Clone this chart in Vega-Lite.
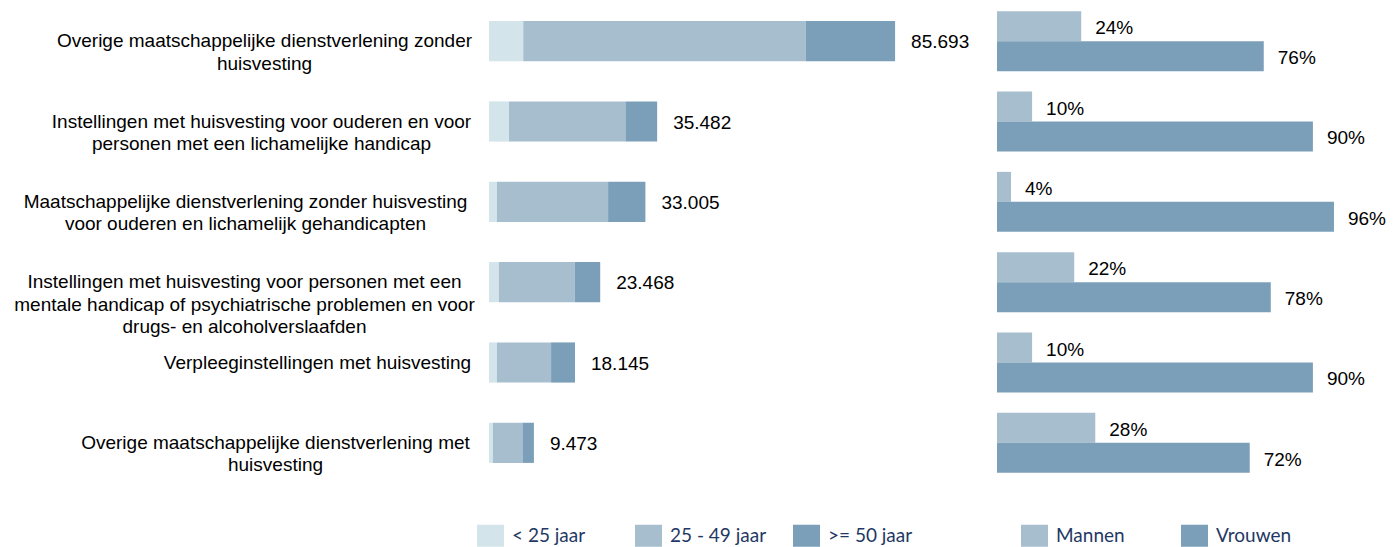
{
  "$schema": "https://vega.github.io/schema/vega-lite/v6.json",
  "padding": {"left": 13, "top": 1, "right": 0, "bottom": 0},
  "config": {
    "view": {"stroke": null},
    "font": "Liberation Sans",
    "locale": {"number": {"decimal": ",", "thousands": ".", "grouping": [3], "currency": ["€", ""]}}
  },
  "resolve": {"scale": {"color": "independent"}},
  "spacing": 0,
  "hconcat": [
    {
      "width": 508,
      "height": 482,
      "data": {"values": [
        {"cat": "Overige maatschappelijke dienstverlening zonder|huisvesting", "age": "< 25 jaar", "n": 7230},
        {"cat": "Overige maatschappelijke dienstverlening zonder|huisvesting", "age": "25 - 49 jaar", "n": 59580},
        {"cat": "Overige maatschappelijke dienstverlening zonder|huisvesting", "age": ">= 50 jaar", "n": 18883},
        {"cat": "Instellingen met huisvesting voor ouderen en voor|personen met een lichamelijke handicap", "age": "< 25 jaar", "n": 4220},
        {"cat": "Instellingen met huisvesting voor ouderen en voor|personen met een lichamelijke handicap", "age": "25 - 49 jaar", "n": 24570},
        {"cat": "Instellingen met huisvesting voor ouderen en voor|personen met een lichamelijke handicap", "age": ">= 50 jaar", "n": 6692},
        {"cat": "Maatschappelijke dienstverlening zonder huisvesting|voor ouderen en lichamelijk gehandicapten", "age": "< 25 jaar", "n": 1671},
        {"cat": "Maatschappelijke dienstverlening zonder huisvesting|voor ouderen en lichamelijk gehandicapten", "age": "25 - 49 jaar", "n": 23459},
        {"cat": "Maatschappelijke dienstverlening zonder huisvesting|voor ouderen en lichamelijk gehandicapten", "age": ">= 50 jaar", "n": 7875},
        {"cat": "Instellingen met huisvesting voor personen met een|mentale handicap of psychiatrische problemen en voor|drugs- en alcoholverslaafden", "age": "< 25 jaar", "n": 2095},
        {"cat": "Instellingen met huisvesting voor personen met een|mentale handicap of psychiatrische problemen en voor|drugs- en alcoholverslaafden", "age": "25 - 49 jaar", "n": 15988},
        {"cat": "Instellingen met huisvesting voor personen met een|mentale handicap of psychiatrische problemen en voor|drugs- en alcoholverslaafden", "age": ">= 50 jaar", "n": 5385},
        {"cat": "Verpleeginstellingen met huisvesting", "age": "< 25 jaar", "n": 1682},
        {"cat": "Verpleeginstellingen met huisvesting", "age": "25 - 49 jaar", "n": 11417},
        {"cat": "Verpleeginstellingen met huisvesting", "age": ">= 50 jaar", "n": 5046},
        {"cat": "Overige maatschappelijke dienstverlening met|huisvesting", "age": "< 25 jaar", "n": 824},
        {"cat": "Overige maatschappelijke dienstverlening met|huisvesting", "age": "25 - 49 jaar", "n": 6240},
        {"cat": "Overige maatschappelijke dienstverlening met|huisvesting", "age": ">= 50 jaar", "n": 2409}
      ]},
      "encoding": {
        "y": {
          "field": "cat", "type": "nominal", "sort": null,
          "scale": {"paddingInner": 0.5, "paddingOuter": 0.25},
          "axis": {
            "title": null, "domain": false, "ticks": false, "tickSize": 0,
            "labelAlign": "center", "labelBaseline": "middle",
            "labelFont": "Liberation Sans", "labelFontSize": 19, "labelColor": "#000000",
            "labelLimit": 1000, "labelLineHeight": 22.5,
            "labelExpr": "split(datum.label, '|')",
            "labelPadding": {
              "condition": [
                {"test": "indexof(datum.value, 'zonder|huisvesting') >= 0", "value": 225},
                {"test": "indexof(datum.value, 'ouderen en voor') >= 0", "value": 228},
                {"test": "indexof(datum.value, 'Maatschappelijke') == 0", "value": 244},
                {"test": "indexof(datum.value, 'mentale') >= 0", "value": 245},
                {"test": "indexof(datum.value, 'Verpleeg') == 0", "value": 172},
                {"test": "indexof(datum.value, 'met|huisvesting') >= 0", "value": 214}
              ],
              "value": 225
            }
          }
        }
      },
      "layer": [
        {
          "transform": [{"calculate": "indexof(['< 25 jaar', '25 - 49 jaar', '>= 50 jaar'], datum.age)", "as": "ord"}],
          "mark": {"type": "bar"},
          "encoding": {
            "x": {"field": "n", "type": "quantitative", "stack": "zero", "scale": {"domain": [0, 107200], "nice": false, "zero": true}, "axis": null},
            "color": {
              "field": "age", "type": "nominal",
              "scale": {"domain": ["< 25 jaar", "25 - 49 jaar", ">= 50 jaar"], "range": ["#d3e4ea", "#a7bece", "#7b9fb8"]},
              "legend": {
                "title": null, "orient": "none", "legendX": -12, "legendY": 521,
                "direction": "horizontal", "columns": 3, "columnPadding": 26, "gridAlign": "all",
                "labelFont": "Lato", "labelFontSize": 19, "labelColor": "#1f3864", "labelOffset": 8,
                "labelBaseline": "middle",
                "symbolType": "M-1,-0.815H1V0.815H-1Z", "symbolSize": 729, "symbolStrokeWidth": 0, "symbolOpacity": 1
              }
            },
            "order": {"field": "ord", "type": "quantitative"}
          }
        },
        {
          "transform": [{"aggregate": [{"op": "sum", "field": "n", "as": "total"}], "groupby": ["cat"]}],
          "mark": {"type": "text", "align": "left", "baseline": "middle", "dx": 16, "dy": 1, "fontSize": 19, "font": "Liberation Sans", "color": "#000000"},
          "encoding": {
            "x": {"field": "total", "type": "quantitative", "scale": {"domain": [0, 107200], "nice": false, "zero": true}, "axis": null},
            "text": {"field": "total", "type": "quantitative", "format": ",d"}
          }
        }
      ]
    },
    {
      "width": 351,
      "height": 482,
      "data": {"values": [
        {"cat": "Overige maatschappelijke dienstverlening zonder|huisvesting", "gender": "Mannen", "pct": 0.24},
        {"cat": "Overige maatschappelijke dienstverlening zonder|huisvesting", "gender": "Vrouwen", "pct": 0.76},
        {"cat": "Instellingen met huisvesting voor ouderen en voor|personen met een lichamelijke handicap", "gender": "Mannen", "pct": 0.10},
        {"cat": "Instellingen met huisvesting voor ouderen en voor|personen met een lichamelijke handicap", "gender": "Vrouwen", "pct": 0.90},
        {"cat": "Maatschappelijke dienstverlening zonder huisvesting|voor ouderen en lichamelijk gehandicapten", "gender": "Mannen", "pct": 0.04},
        {"cat": "Maatschappelijke dienstverlening zonder huisvesting|voor ouderen en lichamelijk gehandicapten", "gender": "Vrouwen", "pct": 0.96},
        {"cat": "Instellingen met huisvesting voor personen met een|mentale handicap of psychiatrische problemen en voor|drugs- en alcoholverslaafden", "gender": "Mannen", "pct": 0.22},
        {"cat": "Instellingen met huisvesting voor personen met een|mentale handicap of psychiatrische problemen en voor|drugs- en alcoholverslaafden", "gender": "Vrouwen", "pct": 0.78},
        {"cat": "Verpleeginstellingen met huisvesting", "gender": "Mannen", "pct": 0.10},
        {"cat": "Verpleeginstellingen met huisvesting", "gender": "Vrouwen", "pct": 0.90},
        {"cat": "Overige maatschappelijke dienstverlening met|huisvesting", "gender": "Mannen", "pct": 0.28},
        {"cat": "Overige maatschappelijke dienstverlening met|huisvesting", "gender": "Vrouwen", "pct": 0.72}
      ]},
      "encoding": {
        "y": {"field": "cat", "type": "nominal", "sort": null, "scale": {"paddingInner": 0.254, "paddingOuter": 0.127}, "axis": null},
        "yOffset": {"field": "gender", "type": "nominal", "scale": {"paddingInner": 0, "paddingOuter": 0}},
        "x": {"field": "pct", "type": "quantitative", "stack": null, "scale": {"domain": [0, 1], "nice": false}, "axis": null}
      },
      "layer": [
        {
          "mark": {"type": "bar"},
          "encoding": {
            "color": {
              "field": "gender", "type": "nominal",
              "scale": {"domain": ["Mannen", "Vrouwen"], "range": ["#a7bece", "#7b9fb8"]},
              "legend": {
                "title": null, "orient": "none", "legendX": 24, "legendY": 521,
                "direction": "horizontal", "columns": 2, "columnPadding": 49, "gridAlign": "all",
                "labelFont": "Lato", "labelFontSize": 19, "labelColor": "#1f3864", "labelOffset": 8,
                "labelBaseline": "middle",
                "symbolType": "M-1,-0.815H1V0.815H-1Z", "symbolSize": 729, "symbolStrokeWidth": 0, "symbolOpacity": 1
              }
            }
          }
        },
        {
          "mark": {"type": "text", "align": "left", "baseline": "middle", "dx": 14, "dy": 2, "fontSize": 19, "font": "Liberation Sans", "color": "#000000"},
          "encoding": {
            "text": {"field": "pct", "type": "quantitative", "format": ".0%"}
          }
        }
      ]
    }
  ]
}
